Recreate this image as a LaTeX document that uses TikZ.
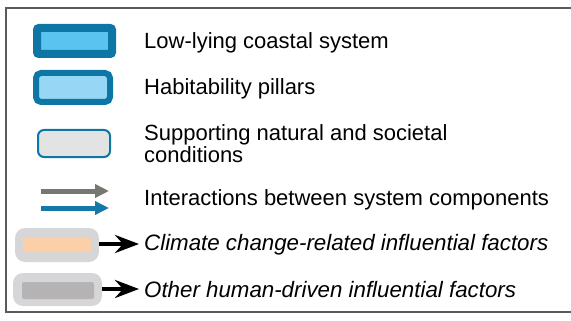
\documentclass[tikz,border=0pt]{standalone}
\usepackage{fontspec}
\setmainfont{Liberation Sans}
\usetikzlibrary{arrows.meta}
\definecolor{dkblue}{HTML}{0E76A4}
\definecolor{ltblueA}{HTML}{5AC3F0}
\definecolor{ltblueB}{HTML}{97D6F4}
\definecolor{ltgrayF}{HTML}{E3E3E3}
\definecolor{arrgray}{HTML}{737870}
\definecolor{arrblue}{HTML}{1478A8}
\definecolor{halo}{HTML}{D6D6D8}
\definecolor{peach}{HTML}{FBD0A8}
\definecolor{midgray}{HTML}{B5B3B3}
\definecolor{framegray}{HTML}{5A5A5A}
\tikzset{
  lbl/.style={anchor=base west, inner sep=0pt, font=\fontsize{22}{25}\selectfont},
  ilbl/.style={lbl, font=\fontsize{22.3}{25}\selectfont\itshape},
  sysbox/.style={draw=dkblue, line width=8pt, fill=ltblueA, rounded corners=2pt, minimum width=75pt, minimum height=26pt, inner sep=0pt},
  pilbox/.style={draw=dkblue, line width=6pt, fill=ltblueB, rounded corners=5pt, minimum width=74pt, minimum height=29pt, inner sep=0pt},
  supbox/.style={draw=dkblue, line width=2pt, fill=ltgrayF, rounded corners=6pt, minimum width=72pt, minimum height=27pt, inner sep=0pt},
  halobox/.style={fill=halo, rounded corners=10pt, inner sep=0pt},
  innerbox/.style={rounded corners=2pt, inner sep=0pt},
  interarrow/.style={line width=5pt, -{Triangle[length=14pt,width=13pt]}},
  factarrow/.style={line width=4pt, black, -{Stealth[length=24pt,width=18pt,inset=8pt]}},
}
\begin{document}
\begin{tikzpicture}[x=1pt,y=-1pt]
\useasboundingbox (0,0) rectangle (571,321);
% frame
\draw[framegray, line width=1.5pt] (571,8) -- (6,8) -- (6,312) -- (571,312);
% legend symbols
\node[sysbox] (sys) at (74.5,41) {};
\node[pilbox] (pil) at (73,87.5) {};
\node[supbox] (sup) at (74,143.5) {};
\coordinate (g1) at (41,191);
\coordinate (g2) at (109,191);
\coordinate (b1) at (41,208);
\coordinate (b2) at (109,208);
\draw[interarrow, arrgray] (g1) -- (g2);
\draw[interarrow, arrblue] (b1) -- (b2);
\node[halobox, minimum width=84pt, minimum height=34pt] (cc) at (57,245) {};
\node[innerbox, fill=peach, minimum width=68pt, minimum height=14pt] (cci) at (57,245) {};
\coordinate (cct) at (139,244);
\draw[factarrow] (cc.east |- cct) -- (cct);
\node[halobox, minimum width=89pt, minimum height=33pt] (hd) at (57.5,289.5) {};
\node[innerbox, fill=midgray, minimum width=72pt, minimum height=17pt] (hdi) at (58,290.5) {};
\coordinate (hdt) at (139,289);
\draw[factarrow] (hd.east |- hdt) -- (hdt);
% labels
\node[lbl] (t1) at (144,49) {Low-lying coastal system};
\node[lbl] (t2) at (144,95) {Habitability pillars};
\node[lbl] (t3) at (144,140) {Supporting natural and societal};
\node[lbl] (t3b) at (144,162) {conditions};
\node[lbl] (t4) at (144,205) {Interactions between system components};
\node[ilbl] (t5) at (144,250) {Climate change-related influential factors};
\node[ilbl] (t6) at (144,297) {Other human-driven influential factors};
\end{tikzpicture}
\end{document}
